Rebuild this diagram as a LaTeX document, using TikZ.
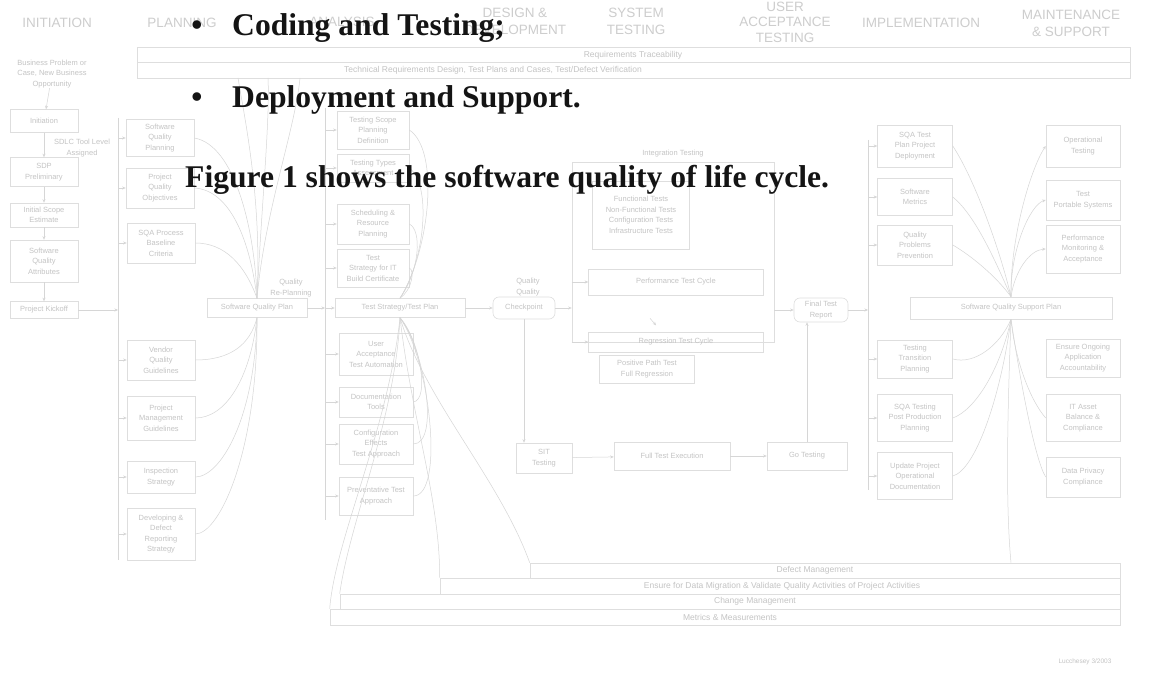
\documentclass[tikz,border=0pt]{standalone}
\usepackage{fontspec}
\setmainfont{Liberation Serif}
\newfontfamily\dsans{Liberation Sans}
\usetikzlibrary{arrows.meta}
\definecolor{dline}{HTML}{DEDEDE}
\definecolor{dtext}{HTML}{C4C4C4}
\definecolor{dhead}{HTML}{CDCDCD}
\definecolor{dcurve}{HTML}{D6D6D6}
\definecolor{fgtext}{HTML}{141414}
\tikzset{
  wh/.style 2 args={minimum width=#1pt, minimum height=#2pt},
  box/.style={draw=dline, line width=0.6pt, text=dtext, font=\dsans\fontsize{7.5}{10.5}\selectfont, align=center, inner sep=1pt},
  rbox/.style={box, rounded corners=6pt},
  dtxt/.style={text=dtext, font=\dsans\fontsize{7.5}{10.5}\selectfont, align=center, inner sep=0pt},
  bartxt/.style={text=dtext, font=\dsans\fontsize{8.5}{10}\selectfont, inner sep=0pt},
  hdr/.style={text=dhead, font=\dsans\fontsize{13.5}{17}\selectfont, align=center, inner sep=0pt},
  bar/.style={draw=dline, line width=0.6pt, inner sep=0pt},
  conn/.style={draw=dcurve, line width=0.5pt},
  arr/.style={conn, -{Stealth[length=3.5pt,width=3pt]}},
  fg/.style={text=fgtext, font=\fontsize{31.6}{38}\selectfont\bfseries, inner sep=0pt},
}
\begin{document}
\begin{tikzpicture}[x=1pt,y=-1pt]
\path[use as bounding box, fill=white] (0,0) rectangle (1167,676);

% ---------- phase headers ----------
\node[hdr] (h1) at (57,23) {INITIATION};
\node[hdr] (h2) at (182,23) {PLANNING};
\node[hdr] (h3) at (342,22) {ANALYSIS};
\node[hdr] (h4) at (515,21) {DESIGN \&\\DEVELOPMENT};
\node[hdr] (h5) at (636,21) {SYSTEM\\TESTING};
\node[hdr, font=\dsans\fontsize{13.5}{15.5}\selectfont] (h6) at (785,22) {USER\\ACCEPTANCE\\TESTING};
\node[hdr] (h7) at (921,23) {IMPLEMENTATION};
\node[hdr] (h8) at (1071,23) {MAINTENANCE\\\& SUPPORT};

% ---------- top bars ----------
\node[bar, wh={993}{15}] (tb1) at (633.5,54.5) {};
\node[bartxt] (tb1t) at (633,55) {Requirements Traceability};
\node[bar, wh={993}{16}] (tb2) at (633.5,70) {};
\node[bartxt] (tb2t) at (493,70) {Technical Requirements Design, Test Plans and Cases, Test/Defect Verification};

% ---------- initiation ----------
\node[dtxt] (i0) at (52,74) {Business Problem or\\Case, New Business\\Opportunity};
\node[box, wh={68}{23}] (i1) at (44,121) {Initiation};
\node[box, wh={68}{29}] (i2) at (44,172) {SDP\\Preliminary};
\node[dtxt] (i2l) at (82,148) {SDLC Tool Level\\Assigned};
\node[box, wh={68}{24}] (i3) at (44,215) {Initial Scope\\Estimate};
\node[box, wh={68}{42}] (i4) at (44,261) {Software\\Quality\\Attributes};
\node[box, wh={68}{17}] (i5) at (44,310) {Project Kickoff};
\draw[arr] (i0) -- (i1);
\draw[arr] (i1) -- (i2);
\draw[arr] (i2) -- (i3);
\draw[arr] (i3) -- (i4);
\draw[arr] (i4) -- (i5);

% ---------- planning ----------
\coordinate (pb1) at (118,118);
\coordinate (pb2) at (118,560);
\coordinate (pk) at (118,310);
\draw[conn] (pb1) -- (pb2);
\draw[arr] (i5) -- (pk);
\node[box, wh={68}{37}] (p1) at (160,138) {Software\\Quality\\Planning};
\node[box, wh={68}{40}] (p2) at (160,188) {Project\\Quality\\Objectives};
\node[box, wh={68}{40}] (p3) at (161,243) {SQA Process\\Baseline\\Criteria};
\node[box, wh={68}{40}] (p4) at (161,360) {Vendor\\Quality\\Guidelines};
\node[box, wh={68}{44}] (p5) at (161,418) {Project\\Management\\Guidelines};
\node[box, wh={68}{32}] (p6) at (161,477) {Inspection\\Strategy};
\node[box, wh={68}{52}] (p7) at (161,534) {Developing \&\\Defect\\Reporting\\Strategy};
\foreach \b in {p1,p2,p3,p4,p5,p6,p7} \draw[arr] (\b.west -| pb1) -- (\b.west);

\node[box, wh={100}{19}] (sqp) at (257,308) {Software Quality Plan};
\node[dtxt] (sqpl) at (291,288) {Quality\\Re-Planning};
\coordinate (t1) at (238,78);
\coordinate (t2) at (268,78);
\coordinate (t3) at (300,78);
\draw[conn] (sqp.north) .. controls (255,230) and (235,145) .. (p1.east);
\draw[conn] (sqp.north) .. controls (250,240) and (230,190) .. (p2.east);
\draw[conn] (sqp.north) .. controls (245,265) and (225,243) .. (p3.east);
\draw[conn] (sqp.north) .. controls (262,200) and (245,120) .. (t1);
\draw[conn] (sqp.north) .. controls (262,200) and (270,120) .. (t2);
\draw[conn] (sqp.north) .. controls (265,210) and (295,130) .. (t3);
\draw[conn] (sqp.south) .. controls (250,345) and (230,360) .. (p4.east);
\draw[conn] (sqp.south) .. controls (250,380) and (225,418) .. (p5.east);
\draw[conn] (sqp.south) .. controls (255,420) and (220,477) .. (p6.east);
\draw[conn] (sqp.south) .. controls (258,450) and (220,534) .. (p7.east);

% ---------- analysis ----------
\coordinate (ab1) at (325,108);
\coordinate (ab2) at (325,520);
\draw[conn] (ab1) -- (ab2);
\draw[arr] (sqp.east) -- (sqp.east -| ab1);
\node[box, wh={72}{38}] (a1) at (373,130) {Testing Scope\\Planning\\Definition};
\node[box, wh={72}{28}] (a2) at (373,168) {Testing Types\\Assessment};
\node[box, wh={72}{40}] (a3) at (373,224) {Scheduling \&\\Resource\\Planning};
\node[box, wh={72}{38}] (a4) at (373,268) {Test\\Strategy for IT\\Build Certificate};
\node[box, wh={130}{19}] (a5) at (400,308) {Test Strategy/Test Plan};
\node[box, wh={74}{42}] (a6) at (376,354) {User\\Acceptance\\Test Automation};
\node[box, wh={74}{30}] (a7) at (376,402) {Documentation\\Tools};
\node[box, wh={74}{40}] (a8) at (376,444) {Configuration\\Effects\\Test Approach};
\node[box, wh={74}{38}] (a9) at (376,496) {Preventative Test\\Approach};
\foreach \b in {a1,a2,a3,a4,a5,a6,a7,a8,a9} \draw[arr] (\b.west -| ab1) -- (\b.west);
\draw[conn] (a5.north) .. controls (430,250) and (440,150) .. (a1.east);
\draw[conn] (a5.north) .. controls (425,260) and (432,185) .. (a2.east);
\draw[conn] (a5.north) .. controls (420,270) and (422,230) .. (a3.east);
\draw[conn] (a5.north) .. controls (412,290) and (415,270) .. (a4.east);
\draw[conn] (a5.south) .. controls (410,330) and (420,354) .. (a6.east);
\draw[conn] (a5.south) .. controls (420,340) and (430,400) .. (a7.east);
\draw[conn] (a5.south) .. controls (425,350) and (440,444) .. (a8.east);
\draw[conn] (a5.south) .. controls (430,360) and (445,496) .. (a9.east);

% ---------- design & development ----------
\node[rbox, wh={62}{22}] (qc) at (524,308) {Checkpoint};
\node[dtxt] (qcl) at (528,287) {Quality\\Quality};
\draw[arr] (a5.east) -- (qc.west);

% ---------- system testing ----------
\node[box, wh={202}{180}] (st) at (673,252) {};
\node[dtxt] (stt) at (673,154) {Integration Testing};
\node[box, wh={97}{68}] (f1) at (641,215) {Functional Tests\\Non-Functional Tests\\Configuration Tests\\Infrastructure Tests};
\node[box, wh={175}{26}] (f2) at (676,282) {Performance Test Cycle};
\node[box, wh={175}{20}] (f3) at (676,342) {Regression Test Cycle};
\node[box, wh={95}{28}] (f4) at (647,369) {Positive Path Test\\Full Regression};
\draw[arr] (qc.east) -- (qc.east -| st.west);
\draw[arr] (f2.west -| st.west) -- (f2.west);
\draw[arr] (f3.west -| st.west) -- (f3.west);
\draw[arr] ([xshift=-26pt,yshift=-23pt]f2.south) -- ([xshift=-20pt,yshift=-30pt]f2.south);

\node[rbox, wh={54}{24}] (ft) at (821,310) {Final Test\\Report};
\draw[arr] (st.east |- ft.west) -- (ft.west);

\node[box, wh={56}{30}] (sit) at (544,458) {SIT\\Testing};
\node[box, wh={116}{28}] (fte) at (672,456) {Full Test Execution};
\node[box, wh={80}{28}] (go) at (807,456) {Go Testing};
\draw[arr] (qc.south) -- (qc.south |- sit.north);
\draw[arr] (sit) -- (fte);
\draw[arr] (fte) -- (go);
\draw[arr] (go.north) -- (go.north |- ft.south);

% ---------- implementation ----------
\coordinate (mb1) at (868,140);
\coordinate (mb2) at (868,490);
\draw[conn] (mb1) -- (mb2);
\draw[arr] (ft.east) -- (ft.east -| mb1);
\node[box, wh={75}{42}] (m1) at (915,146) {SQA Test\\Plan Project\\Deployment};
\node[box, wh={75}{37}] (m2) at (915,197) {Software\\Metrics};
\node[box, wh={75}{40}] (m3) at (915,245) {Quality\\Problems\\Prevention};
\node[box, wh={75}{38}] (m4) at (915,359) {Testing\\Transition\\Planning};
\node[box, wh={75}{47}] (m5) at (915,418) {SQA Testing\\Post Production\\Planning};
\node[box, wh={75}{47}] (m6) at (915,476) {Update Project\\Operational\\Documentation};
\foreach \b in {m1,m2,m3,m4,m5,m6} \draw[arr] (\b.west -| mb1) -- (\b.west);

% ---------- maintenance & support ----------
\node[box, wh={202}{22}] (sp) at (1011,308) {Software Quality Support Plan};
\node[box, wh={74}{42}] (n1) at (1083,146) {Operational\\Testing};
\node[box, wh={74}{40}] (n2) at (1083,200) {Test\\Portable Systems};
\node[box, wh={74}{48}] (n3) at (1083,249) {Performance\\Monitoring \&\\Acceptance};
\node[box, wh={74}{38}] (n4) at (1083,358) {Ensure Ongoing\\Application\\Accountability};
\node[box, wh={74}{47}] (n5) at (1083,418) {IT Asset\\Balance \&\\Compliance};
\node[box, wh={74}{40}] (n6) at (1083,477) {Data Privacy\\Compliance};
\draw[conn] (sp.north) .. controls (1000,250) and (975,180) .. (m1.east);
\draw[conn] (sp.north) .. controls (995,260) and (975,215) .. (m2.east);
\draw[conn] (sp.north) .. controls (995,275) and (970,255) .. (m3.east);
\draw[arr] (sp.north) .. controls (1010,240) and (1030,170) .. (n1.west);
\draw[arr] (sp.north) .. controls (1010,250) and (1030,205) .. (n2.west);
\draw[arr] (sp.north) .. controls (1015,270) and (1030,250) .. (n3.west);
\draw[conn] (sp.south) .. controls (1000,345) and (975,365) .. (m4.east);
\draw[conn] (sp.south) .. controls (1000,370) and (975,410) .. (m5.east);
\draw[conn] (sp.south) .. controls (1000,400) and (975,470) .. (m6.east);
\draw[conn] (sp.south) .. controls (1015,360) and (1030,400) .. (n5.west);
\draw[conn] (sp.south) .. controls (1020,380) and (1035,460) .. (n6.west);

% ---------- bottom bars ----------
\node[bar, wh={590}{15}] (bb1) at (825,570.5) {};
\node[bar, wh={680}{16}] (bb2) at (780,586) {};
\node[bar, wh={780}{15}] (bb3) at (730,601.5) {};
\node[bar, wh={790}{16}] (bb4) at (725,617) {};
\node[bartxt] (bb1t) at (815,570.5) {Defect Management};
\node[bartxt] (bb2t) at (782,586) {Ensure for Data Migration \& Validate Quality Activities of Project Activities};
\node[bartxt] (bb3t) at (755,601.5) {Change Management};
\node[bartxt] (bb4t) at (730,617) {Metrics \& Measurements};
\draw[conn] (a5.south) .. controls (425,400) and (500,480) .. (bb1.north west);
\draw[conn] (a5.south) .. controls (412,420) and (440,500) .. (bb2.north west);
\draw[conn] (a5.south) .. controls (395,420) and (350,520) .. (bb3.north west);
\draw[conn] (a5.south) .. controls (388,430) and (335,540) .. (bb4.north west);
\draw[conn] (sp.south) .. controls (1008,400) and (1005,500) .. (sp.south |- bb1.north);

\node[dtxt, font=\dsans\fontsize{6.5}{8}\selectfont] (stamp) at (1085,662) {Lucchesey 3/2003};

% ---------- foreground text ----------
\node[fg, anchor=base] (bul1) at (197,36) {•};
\node[fg, anchor=base west] (line1) at (232,36) {Coding and Testing;};
\node[fg, anchor=base] (bul2) at (197,108) {•};
\node[fg, anchor=base west] (line2) at (232,108) {Deployment and Support.};
\node[fg, anchor=base west] (line3) at (185,188) {Figure 1 shows the software quality of life cycle.};
\end{tikzpicture}
\end{document}
